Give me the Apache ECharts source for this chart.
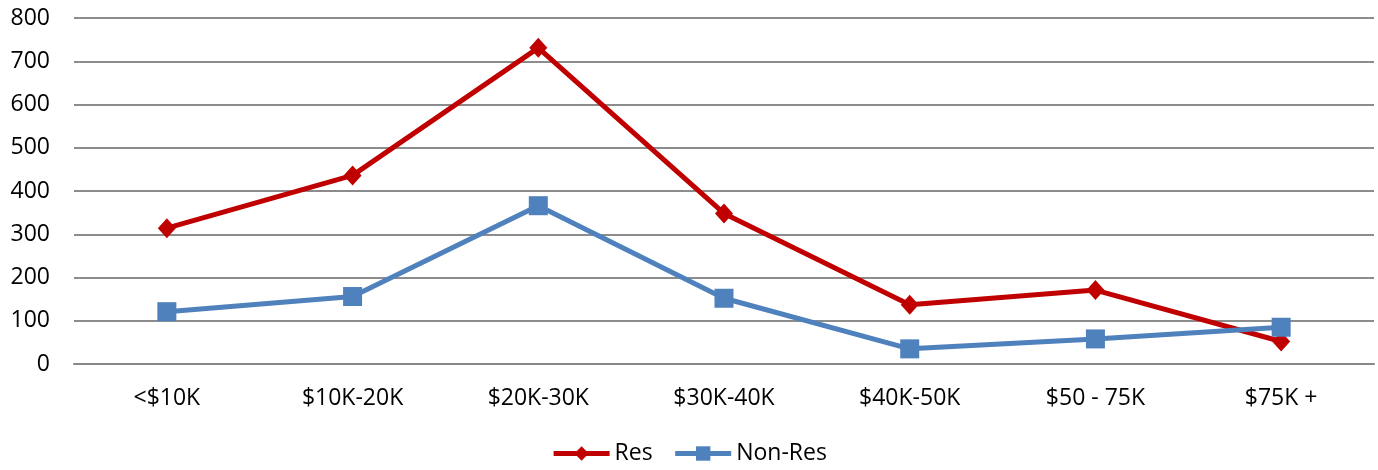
<!DOCTYPE html>
<html>
<head>
<meta charset="utf-8">
<script src="https://cdn.jsdelivr.net/npm/echarts@6/dist/echarts.min.js"></script>
<style>
  html, body { margin: 0; padding: 0; background: #fff; }
  #chart { width: 1378px; height: 470px; }
</style>
</head>
<body>
<div id="chart"></div>
<script>
// income brackets and counts
let categories = ['<$10K', '$10K-20K', '$20K-30K', '$30K-40K', '$40K-50K', '$50 - 75K', '$75K +'];
let res = [314, 436, 731, 348, 137, 171, 52];
let nonRes = [121, 156, 366, 152, 35, 58, 85];

let font = 'Open Sans, Liberation Sans, sans-serif';

let chart = echarts.init(document.getElementById('chart'));

let option = {
  animation: false,
  backgroundColor: '#fff',
  grid: {
    left: 74,
    right: 4,
    top: 18,
    bottom: 106,
  },
  legend: {
    bottom: 0,
    left: 'center',
    itemWidth: 56,
    itemHeight: 18,
    itemGap: 20,
    lineStyle: { width: 5 },
    textStyle: { fontFamily: font, fontSize: 23, color: '#000' },
    data: ['Res', 'Non-Res'],
  },
  xAxis: {
    type: 'category',
    data: categories,
    boundaryGap: true,
    axisLine: { show: true, lineStyle: { color: '#888', width: 2 } },
    axisTick: { show: false },
    axisLabel: { fontFamily: font, fontSize: 23, color: '#000', margin: 23 },
  },
  yAxis: {
    type: 'value',
    min: 0,
    max: 800,
    interval: 100,
    axisLine: { show: false },
    axisTick: { show: false },
    axisLabel: { fontFamily: font, fontSize: 23, color: '#000', margin: 24 },
    splitLine: { lineStyle: { color: '#8c8c8c', width: 2 } },
  },
  series: [
    {
      name: 'Res',
      type: 'line',
      data: res,
      symbol: 'diamond',
      symbolSize: [18, 20],
      showAllSymbol: true,
      itemStyle: { color: '#C00000' },
      lineStyle: { color: '#C00000', width: 5 },
    },
    {
      name: 'Non-Res',
      type: 'line',
      data: nonRes,
      symbol: 'rect',
      symbolSize: 19,
      showAllSymbol: true,
      itemStyle: { color: '#4F81BD' },
      lineStyle: { color: '#4F81BD', width: 5 },
    },
  ],
};
chart.setOption(option);
</script>
</body>
</html>
